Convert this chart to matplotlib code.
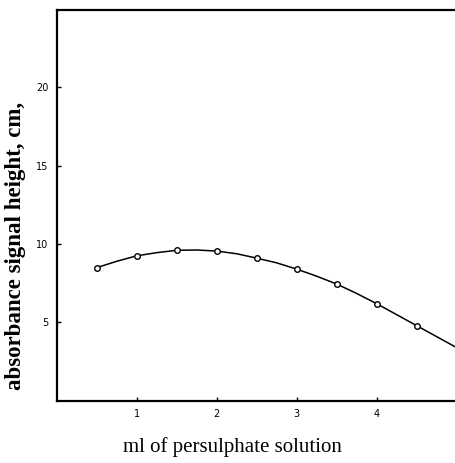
import numpy as np
import matplotlib.pyplot as plt

# measured points (ml persulphate vs signal height, cm)
ml_vals = [0.5, 1.0, 1.5, 2.0, 2.5, 3.0, 3.5, 4.0, 4.5]
height_vals = [8.5, 9.25, 9.6, 9.55, 9.1, 8.4, 7.45, 6.2, 4.8]

# hand-drawn smooth curve
curve_x = [0.5, 0.75, 1.0, 1.25, 1.5, 1.75, 2.0, 2.25, 2.5, 2.75, 3.0, 3.25, 3.5, 3.75, 4.0, 4.25, 4.5, 4.75, 5.0]
curve_y = [8.5, 8.9, 9.25, 9.45, 9.6, 9.62, 9.55, 9.38, 9.1, 8.8, 8.4, 7.95, 7.45, 6.85, 6.2, 5.5, 4.8, 4.1, 3.4]

xticks = [1, 2, 3, 4]
yticks = [5, 10, 15, 20]

fig = plt.figure(figsize=(4.55, 4.63), dpi=100)
ax = fig.add_axes([0.125, 0.134, 0.875, 0.844])

ax.plot(curve_x, curve_y, color='black', linewidth=1.1)
ax.plot(ml_vals, height_vals, linestyle='none', marker='o', markersize=4,
        markerfacecolor='white', markeredgecolor='black', markeredgewidth=1.0)

ax.set_xlim(0, 4.98)
ax.set_ylim(0, 24.9)
ax.set_xticks(xticks)
ax.set_yticks(yticks)
ax.tick_params(direction='in', length=3, width=1, labelsize=7, pad=6)

ax.spines['right'].set_visible(False)
for s in ['left', 'bottom', 'top']:
    ax.spines[s].set_linewidth(1.6)

fig.text(0.51, 0.035, "ml of persulphate solution", ha='center', va='center',
         fontsize=15, family='Liberation Serif')
fig.text(0.035, 0.469, "absorbance signal height, cm,", ha='center', va='center',
         rotation=90, fontsize=16.5, fontweight='bold', family='Liberation Serif')

plt.savefig("out.png", dpi=100)
